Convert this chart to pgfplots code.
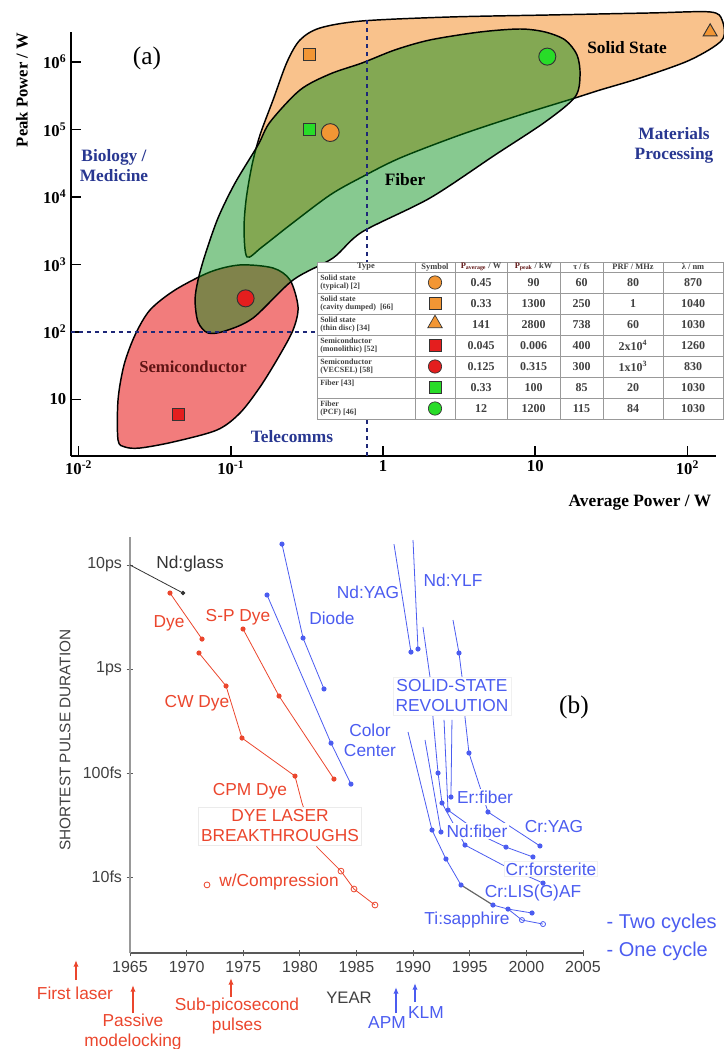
\documentclass[border=0pt]{standalone}
\usepackage{fontspec}
\setmainfont{Liberation Serif}
\newfontfamily\arial{Liberation Sans}
\usepackage{pgfplots}
\pgfplotsset{compat=1.18}
\usetikzlibrary{arrows.meta,shapes.geometric}

\definecolor{ssorange}{RGB}{249,194,140}
\definecolor{semired}{RGB}{242,124,124}
\definecolor{fibgreen}{RGB}{0,140,20}
\definecolor{mkorange}{RGB}{242,150,52}
\definecolor{mkred}{RGB}{228,30,30}
\definecolor{mkgreen}{RGB}{40,220,40}
\definecolor{navy}{RGB}{30,40,120}
\definecolor{lblue}{RGB}{40,55,145}
\definecolor{semitext}{RGB}{95,20,20}
\definecolor{dyered}{RGB}{235,70,45}
\definecolor{ssblue}{RGB}{75,92,240}
\definecolor{tgray}{RGB}{64,64,64}

\pgfplotsset{
  redser/.style={dyered, line width=0.6pt, mark=*, mark size=1.6pt, mark options={fill=dyered, draw=dyered}},
  blueser/.style={ssblue, line width=0.6pt, mark=*, mark size=1.6pt, mark options={fill=ssblue, draw=ssblue}},
}

\begin{document}
\begin{tikzpicture}
\useasboundingbox (0,0) rectangle (543pt,-786.75pt);

% ---------------- TOP PANEL ----------------
\begin{axis}[
  at={(53.25pt,-342pt)}, anchor=south west,
  scale only axis, width=483.75pt, height=318pt,
  xmode=log, ymode=log,
  xmin=8.91e-3, xmax=154, ymin=1.455, ymax=2.78e6,
  axis x line*=bottom, axis y line*=left,
  axis line style={line width=1.8pt, black},
  xminorticks=false, yminorticks=false,
  tick align=inside, major tick length=7.5pt,
  tick style={line width=1.3pt, black},
  xtick={0.01,0.1,1,10,100},
  xticklabels={10\textsuperscript{-2},10\textsuperscript{-1},1,10,10\textsuperscript{2}},
  ytick={10,100,1000,10000,100000,1000000},
  yticklabels={10,10\textsuperscript{2},10\textsuperscript{3},10\textsuperscript{4},10\textsuperscript{5},10\textsuperscript{6}},
  ticklabel style={font=\bfseries\fontsize{12.5}{14}\selectfont},
  clip=false,
]
% Semiconductor
\addplot[fill=semired, draw=black, line width=1.1pt, smooth cycle] coordinates {
(0.01815,2.512) (0.02018,1.977) (0.02532,1.91) (0.04171,2.344) (0.0811,3.53) (0.1149,6.31) (0.1555,15.3) (0.2042,41.2) (0.2563,107) (0.2764,234) (0.2449,589) (0.1894,887) (0.1149,984) (0.0730,774) (0.04299,419) (0.02945,212) (0.02348,90.3) (0.01987,32.4) (0.01815,9.84)};
% Solid state
\addplot[fill=ssorange, draw=black, line width=1.1pt, smooth cycle] coordinates {
(0.1278,1292) (0.1221,3246) (0.1259,9030) (0.1378,29800) (0.1555,82900) (0.1894,273500) (0.2340,1.0e6) (0.2849,2.12e6) (0.3856,3.19e6) (0.7278,4.05e6) (2.755,4.64e6) (12.51,4.97e6) (56.8,5.32e6) (140.8,5.51e6) (168.8,4.19e6) (168.8,2.12e6) (104,1.07e6) (48.8,5.79e5) (26.7,3.85e5) (18.26,2.93e5) (7.945,1.64e5) (3.205,82900) (1.293,37800) (0.7278,19800) (0.4485,10700) (0.2449,3846) (0.1603,1816)};
% Fiber
\addplot[fill=fibgreen, fill opacity=0.47, draw=black, line width=1.1pt, smooth cycle] coordinates {
(0.7278,9.66e5) (1.199,1.51e6) (2.036,2.12e6) (4.338,2.78e6) (7.945,3.08e6) (11.6,2.78e6) (15.7,2.12e6) (18.82,1.27e6) (19.7,6.42e5) (18.26,3.03e5) (11.6,1.29e5) (5.44,41900) (2.036,9660) (0.7278,3030) (0.4693,1248) (0.2563,589) (0.1399,161) (0.0916,103.5) (0.0708,96.6) (0.0609,140.6) (0.0582,298) (0.0609,589) (0.0677,1384) (0.0824,4887) (0.1066,16100) (0.1509,58900) (0.1810,1.29e5) (0.2849,3.85e5) (0.4485,6.64e5)};
% dashed guide lines
\addplot[navy, line width=1.1pt, dash pattern=on 3pt off 3pt] coordinates {(0.785,1.455) (0.785,4.19e6)};
\addplot[navy, line width=1.1pt, dash pattern=on 3pt off 3pt] coordinates {(8.91e-3,100) (0.4,100)};
% markers
\addplot[only marks, mark=*, mark size=6.7pt, mark options={fill=mkorange, draw=black!80, line width=0.7pt}] coordinates {(0.45,90000)};
\addplot[only marks, mark=square*, mark size=4.5pt, mark options={fill=mkorange, draw=black!80, line width=0.7pt}] coordinates {(0.33,1300000)};
\addplot[only marks, mark=triangle*, mark size=6pt, mark options={fill=mkorange, draw=black!80, line width=0.7pt}] coordinates {(141,2800000)};
\addplot[only marks, mark=square*, mark size=4.5pt, mark options={fill=mkred, draw=black!80, line width=0.7pt}] coordinates {(0.045,6)};
\addplot[only marks, mark=*, mark size=6.4pt, mark options={fill=mkred, draw=black!80, line width=0.7pt}] coordinates {(0.125,315)};
\addplot[only marks, mark=square*, mark size=4.5pt, mark options={fill=mkgreen, draw=black!80, line width=0.7pt}] coordinates {(0.33,100000)};
\addplot[only marks, mark=*, mark size=6.4pt, mark options={fill=mkgreen, draw=black!80, line width=0.7pt}] coordinates {(12,1200000)};
\end{axis}

% ---------------- BOTTOM PANEL ----------------
\begin{axis}[
  at={(97.5pt,-714.75pt)}, anchor=south west,
  scale only axis, width=339.75pt, height=312pt,
  ymode=log, xmin=1965, xmax=2005, ymin=1.86, ymax=18600,
  axis x line*=bottom, axis y line*=left,
  x axis line style={line width=0.9pt, black!65},
  y axis line style={line width=1.8pt, black!40},
  xtick={1965,1970,1975,1980,1985,1990,1995,2000,2005},
  xticklabels={1965,1970,1975,1980,1985,1990,1995,2000,2005},
  ytick={10,100,1000,10000}, yticklabels={10fs,100fs,1ps,10ps},
  xminorticks=false, yminorticks=false,
  tick align=center, major tick length=5pt,
  tick style={black!65, line width=0.7pt},
  ticklabel style={font=\arial\fontsize{12}{14}\selectfont, text=black!75},
  clip=false,
]
\addplot[black!80, line width=0.6pt, mark=*, mark size=1.4pt, mark options={fill=black!80}, mark indices={2}] coordinates {(1965,10000) (1969.68,5380)};
\addplot[redser] coordinates {(1968.53,5380) (1971.36,1942)};
\addplot[redser] coordinates {(1971.09,1426) (1973.48,687) (1974.89,217) (1979.57,93.5)};
\addplot[dyered, line width=0.6pt, no marks] coordinates {(1979.57,93.5) (1980.19,51.5) (1981.51,19.4) (1983.63,11.4) (1984.78,7.67) (1986.63,5.38)};
\addplot[dyered, only marks, mark=o, mark size=2.2pt, mark options={fill=white, line width=0.6pt}] coordinates {(1983.63,11.4) (1984.78,7.67) (1986.63,5.38) (1971.8,8.4)};
\addplot[redser] coordinates {(1974.98,2425) (1978.16,550) (1983.01,87.5)};
% blue
\addplot[blueser] coordinates {(1978.42,15900) (1980.28,1986) (1982.13,643)};
\addplot[blueser] coordinates {(1977.10,5150) (1982.75,194) (1984.51,78.3)};
\addplot[blueser, mark indices={2}] coordinates {(1988.31,15900) (1989.81,1456)};
\addplot[blueser, mark indices={2}] coordinates {(1989.99,17400) (1990.43,1557)};
\addplot[blueser, mark indices={2,5,6,7}] coordinates {(1993.52,2958) (1994.05,1426) (1994.32,837) (1994.58,345) (1994.93,156) (1996.61,42.2) (2001.20,19.9)};
\addplot[blueser, mark indices={4,5,6,8}] coordinates {(1990.87,2535) (1991.49,837) (1991.75,345) (1992.20,100) (1992.55,51.5) (1994.58,20.3) (1997.94,13.0) (2001.47,8.75)};
\addplot[blueser, mark indices={2,4,5}] coordinates {(1992.73,324) (1993.08,44.0) (1996.52,23.7) (1998.20,19.4) (2000.58,15.6)};
\addplot[blueser, mark indices={2}] coordinates {(1993.43,324) (1993.34,58.8)};
\addplot[blueser, mark indices={2}] coordinates {(1991.05,208) (1992.46,27.1)};
\addplot[blueser, mark indices={2,3,4}] coordinates {(1989.55,248) (1991.67,28.3) (1992.90,14.9) (1994.23,8.38)};
\addplot[black!60, line width=0.9pt, no marks] coordinates {(1994.23,8.38) (1997.05,5.38)};
\addplot[blueser] coordinates {(1997.05,5.38) (1998.38,4.92) (2000.50,4.51)};
\addplot[ssblue, line width=0.6pt, mark=o, mark size=1.9pt, mark options={fill=white}, mark indices={2,3}] coordinates {(1998.38,4.92) (1999.61,3.86) (2001.47,3.53)};
\end{axis}

% ---------------- TEXT (pixel coordinates) ----------------
\begin{scope}[x=0.75pt,y=-0.75pt]
% top panel texts
\node[font=\fontsize{19}{22}\selectfont] at (147,58) {(a)};
\node[font=\bfseries\fontsize{12.5}{14}\selectfont, rotate=90] at (22,90) {Peak Power / W};
\node[font=\bfseries\fontsize{13}{15}\selectfont, anchor=east] at (716,503) {Average Power / W};
\node[font=\bfseries\fontsize{13}{15}\selectfont, text=lblue, align=center] at (114,166) {Biology /\\Medicine};
\node[font=\bfseries\fontsize{13}{15}\selectfont, text=lblue, align=center] at (674,145) {Materials\\Processing};
\node[font=\bfseries\fontsize{13}{15}\selectfont, text=lblue] at (292,437) {Telecomms};
\node[font=\bfseries\fontsize{13}{15}\selectfont] at (405,180) {Fiber};
\node[font=\bfseries\fontsize{13}{15}\selectfont] at (627,48) {Solid State};
\node[font=\bfseries\fontsize{12.5}{14}\selectfont, text=semitext] at (193,367) {Semiconductor};

% table
\fill[white] (317,262) rectangle (723,419);
\draw[black!40, line width=0.3pt] (317,262) rectangle (723,419);
\foreach \x in {415,455,507,560,603,663} \draw[black!40, line width=0.3pt] (\x,262) -- (\x,419);
\foreach \y in {272,293,314,335,356,377,398} \draw[black!40, line width=0.3pt] (317,\y) -- (723,\y);
\begin{scope}[every node/.style={font=\bfseries\fontsize{6.3}{6.5}\selectfont, text=tgray, inner sep=0pt}]
\node at (366,267) {Type};
\node at (435,267) {Symbol};
\node at (481,267) {{\color{semitext}P\textsubscript{average}} / W};
\node at (533.5,267) {{\color{semitext}P\textsubscript{peak}} / kW};
\node at (581.5,267) {τ / fs};
\node at (633,267) {PRF / MHz};
\node at (693,267) {λ / nm};
\end{scope}
\begin{scope}[every node/.style={font=\bfseries\fontsize{6}{6.6}\selectfont, text=tgray, inner sep=0pt}]
\node[anchor=west, align=left] at (320,282.5) {Solid state\\(typical) [2]};
\node[anchor=west, align=left] at (320,303.5) {Solid state\\(cavity dumped) \ [66]};
\node[anchor=west, align=left] at (320,324.5) {Solid state\\(thin disc) [34]};
\node[anchor=west, align=left] at (320,345.5) {Semiconductor\\(monolithic) [52]};
\node[anchor=west, align=left] at (320,366.5) {Semiconductor\\(VECSEL) [58]};
\node[anchor=north west, align=left] at (320,380) {Fiber [43]};
\node[anchor=west, align=left] at (320,408.5) {Fiber\\(PCF) [46]};
\end{scope}
\begin{scope}[every node/.style={font=\bfseries\fontsize{9}{10}\selectfont, text=tgray, inner sep=0pt}]
\foreach \yy/\a/\b/\c/\d/\e in {282.5/0.45/90/60/80/870, 303.5/0.33/1300/250/1/1040, 324.5/141/2800/738/60/1030, 345.5/0.045/0.006/400/2x10\textsuperscript{4}/1260, 366.5/0.125/0.315/300/1x10\textsuperscript{3}/830, 387.5/0.33/100/85/20/1030, 408.5/12/1200/115/84/1030}{
  \node at (481,\yy) {\a};
  \node at (533.5,\yy) {\b};
  \node at (581.5,\yy) {\c};
  \node at (633,\yy) {\d};
  \node at (693,\yy) {\e};
}
\end{scope}
\node[circle, fill=mkorange, draw=black!80, line width=0.5pt, minimum size=10pt, inner sep=0pt] at (435,282.5) {};
\node[rectangle, fill=mkorange, draw=black!80, line width=0.5pt, minimum size=9pt, inner sep=0pt] at (435,303.5) {};
\node[regular polygon, regular polygon sides=3, fill=mkorange, draw=black!80, line width=0.5pt, minimum size=12.5pt, inner sep=0pt] at (435,323.5) {};
\node[rectangle, fill=mkred, draw=black!80, line width=0.5pt, minimum size=9pt, inner sep=0pt] at (435,345.5) {};
\node[circle, fill=mkred, draw=black!80, line width=0.5pt, minimum size=10pt, inner sep=0pt] at (435,366.5) {};
\node[rectangle, fill=mkgreen, draw=black!80, line width=0.5pt, minimum size=9pt, inner sep=0pt] at (435,387.5) {};
\node[circle, fill=mkgreen, draw=black!80, line width=0.5pt, minimum size=10pt, inner sep=0pt] at (435,408.5) {};

% bottom panel texts
\node[font=\fontsize{19}{22}\selectfont] at (574,707) {(b)};
\node[font=\arial\fontsize{11.5}{13}\selectfont, text=black!75, rotate=90] at (65,740) {SHORTEST PULSE DURATION};
\node[font=\arial\fontsize{12.5}{14}\selectfont, text=black!75] at (349,998) {YEAR};
\begin{scope}[every node/.style={font=\arial\fontsize{13}{15}\selectfont}]
\node[text=black!80] at (190,564) {Nd:glass};
\node[text=dyered] at (169,623) {Dye};
\node[text=dyered] at (238,617) {S-P Dye};
\node[text=dyered] at (197,703) {CW Dye};
\node[text=dyered] at (250,791) {CPM Dye};
\node[text=dyered, fill=white, draw=black!8, align=center, inner sep=2pt] at (280,826) {DYE LASER\\BREAKTHROUGHS};
\node[text=dyered] at (279,882) {w/Compression};
\node[text=ssblue] at (332,618) {Diode};
\node[text=ssblue, align=center] at (370,740) {Color\\Center};
\node[text=ssblue] at (368,592) {Nd:YAG};
\node[text=ssblue] at (453,580) {Nd:YLF};
\node[text=ssblue, fill=white, draw=black!6, align=center, inner sep=2pt] at (452,696) {SOLID-STATE\\REVOLUTION};
\node[text=ssblue, fill=white, inner sep=1pt] at (485,797) {Er:fiber};
\node[text=ssblue] at (554,827) {Cr:YAG};
\node[text=ssblue, fill=white, inner sep=1pt] at (477,831) {Nd:fiber};
\node[text=ssblue, fill=white, draw=black!6, inner sep=1pt] at (551,869) {Cr:forsterite};
\node[text=ssblue] at (533,893) {Cr:LIS(G)AF};
\node[text=ssblue] at (467,920) {Ti:sapphire};
\node[text=dyered] at (75,993) {First laser};
\node[text=dyered, align=center] at (133,1032) {Passive\\modelocking};
\node[text=dyered, align=center] at (237,1016) {Sub-picosecond\\pulses};
\node[text=ssblue] at (387,1023) {APM};
\node[text=ssblue] at (426,1013) {KLM};
\end{scope}
\node[font=\arial\fontsize{15}{17}\selectfont, text=ssblue, anchor=west] at (602,923) {- Two cycles};
\node[font=\arial\fontsize{15}{17}\selectfont, text=ssblue, anchor=west] at (602,951) {- One cycle};
% arrows
\draw[-{Latex[length=5pt,width=4pt]}, line width=1.3pt, dyered] (76,980) -- (76,960);
\draw[-{Latex[length=5pt,width=4pt]}, line width=1.3pt, dyered] (133,1013) -- (133,985);
\draw[-{Latex[length=5pt,width=4pt]}, line width=1.3pt, dyered] (231,997) -- (231,978);
\draw[-{Latex[length=5pt,width=4pt]}, line width=1.3pt, ssblue] (396,1013) -- (396,987);
\draw[-{Latex[length=5pt,width=4pt]}, line width=1.3pt, ssblue] (415,1002) -- (415,983);
\end{scope}
\end{tikzpicture}
\end{document}
